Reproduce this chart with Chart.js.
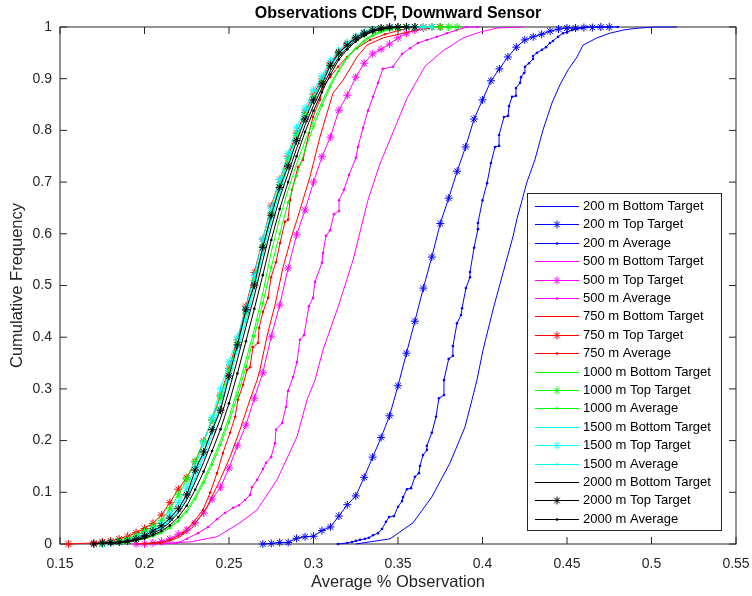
<!DOCTYPE html>
<html><head><meta charset="utf-8">
<script src="https://cdn.jsdelivr.net/npm/chart.js@4.4.1/dist/chart.umd.min.js"></script>
<style>html,body{margin:0;padding:0;background:#fff;}#wrap{width:752px;height:596px;}</style>
</head><body><div id="wrap"><canvas id="c" width="752" height="596"></canvas></div>
<script>
// ---------- tick labels ----------
const xTicks = [0.15,0.2,0.25,0.3,0.35,0.4,0.45,0.5,0.55];
const yTicks = [0,0.1,0.2,0.3,0.4,0.5,0.6,0.7,0.8,0.9,1];

// ---------- 200 m ----------
const b200x = [0.325,0.3453,0.3589,0.370,0.3808,0.3896,0.3938,0.3967,0.4003,0.4062,0.4121,0.418,0.4204,0.4234,0.4263,0.431,0.4358,0.4411,0.4458,0.4506,0.4559,0.4595,0.4678,0.4754,0.4831,0.4873,0.493,0.502,0.515];
const b200y = [0,0.010,0.041,0.091,0.157,0.226,0.279,0.317,0.375,0.453,0.524,0.594,0.629,0.665,0.700,0.743,0.801,0.853,0.888,0.917,0.942,0.965,0.979,0.988,0.994,0.996,0.998,1,1];
const t200x = [0.270,0.275,0.280,0.285,0.290,0.295,0.300,0.305,0.310,0.315,0.320,0.325,0.330,0.335,0.340,0.345,0.350,0.355,0.360,0.365,0.370,0.375,0.380,0.385,0.390,0.395,0.400,0.405,0.410,0.415,0.420,0.425,0.430,0.435,0.440,0.445,0.450,0.455,0.460,0.465,0.470,0.475];
const t200y = [0,0.001,0.003,0.003,0.011,0.014,0.015,0.026,0.033,0.054,0.076,0.093,0.129,0.168,0.206,0.248,0.306,0.369,0.431,0.495,0.555,0.620,0.669,0.721,0.768,0.822,0.859,0.896,0.919,0.942,0.961,0.975,0.981,0.986,0.992,0.996,0.998,0.998,0.999,0.999,1,1];
const a200x = [0.3145,0.320,0.3228,0.3251,0.3275,0.3305,0.3328,0.3352,0.3382,0.3405,0.3429,0.3447,0.3476,0.350,0.3524,0.353,0.3553,0.3577,0.360,0.3624,0.363,0.3648,0.3671,0.3671,0.370,0.3725,0.3742,0.3772,0.3772,0.380,0.3825,0.3825,0.3849,0.3873,0.3879,0.3902,0.3926,0.3926,0.395,0.3973,0.3973,0.400,0.4027,0.405,0.4074,0.4098,0.4098,0.4127,0.4151,0.4157,0.4175,0.4198,0.4198,0.4222,0.4228,0.4246,0.4251,0.4275,0.4299,0.4299,0.4322,0.4352,0.4376,0.4399,0.4417,0.4447,0.4476,0.45,0.453,0.456,0.459,0.462,0.468,0.474,0.48];
const a200y = [0,0.002,0.004,0.006,0.008,0.010,0.012,0.017,0.021,0.029,0.043,0.052,0.054,0.072,0.083,0.091,0.106,0.108,0.130,0.137,0.151,0.172,0.182,0.190,0.215,0.246,0.282,0.288,0.317,0.358,0.364,0.383,0.427,0.443,0.456,0.495,0.516,0.526,0.573,0.609,0.621,0.665,0.698,0.737,0.768,0.770,0.791,0.826,0.828,0.847,0.865,0.867,0.882,0.892,0.903,0.911,0.923,0.930,0.938,0.944,0.950,0.956,0.961,0.969,0.973,0.981,0.988,0.990,0.994,0.996,0.998,1,1,1,1];

// ---------- 500 m ----------
const b500x = [0.205,0.2151,0.2269,0.2429,0.2565,0.2666,0.2784,0.2902,0.2962,0.3009,0.3056,0.3145,0.3234,0.3293,0.3322,0.3393,0.3494,0.3553,0.366,0.377,0.382,0.3885,0.3985,0.4086,0.424];
const b500y = [0,0.002,0.004,0.014,0.041,0.066,0.124,0.207,0.279,0.317,0.375,0.458,0.549,0.627,0.665,0.735,0.815,0.862,0.924,0.955,0.965,0.979,0.990,0.998,1];
const t500x = [0.195,0.200,0.205,0.210,0.215,0.220,0.225,0.230,0.235,0.240,0.245,0.250,0.255,0.260,0.265,0.270,0.275,0.280,0.285,0.290,0.295,0.300,0.305,0.310,0.315,0.320,0.325,0.330,0.335,0.340,0.345,0.350,0.355,0.360,0.365,0.370,0.375];
const t500y = [0,0,0.002,0.005,0.010,0.019,0.027,0.041,0.060,0.087,0.110,0.147,0.190,0.230,0.282,0.331,0.402,0.462,0.534,0.598,0.646,0.700,0.749,0.787,0.839,0.868,0.903,0.930,0.948,0.957,0.967,0.979,0.988,0.994,0.998,1,1];
const a500x = [0.210,0.2192,0.2251,0.2317,0.2376,0.2429,0.2476,0.2524,0.2559,0.2595,0.2624,0.2636,0.2666,0.2701,0.2719,0.2749,0.2772,0.2778,0.2814,0.2837,0.2849,0.2879,0.2902,0.292,0.2944,0.2973,0.2997,0.3009,0.305,0.3056,0.3074,0.3098,0.3121,0.3151,0.3151,0.318,0.321,0.3251,0.3263,0.3293,0.3322,0.3352,0.3382,0.341,0.347,0.3524,0.3571,0.3618,0.3671,0.373,0.379,0.3849,0.3908,0.397];
const a500y = [0,0.002,0.010,0.021,0.033,0.048,0.060,0.070,0.075,0.085,0.095,0.110,0.124,0.145,0.157,0.168,0.195,0.221,0.234,0.265,0.296,0.323,0.352,0.395,0.404,0.460,0.476,0.507,0.544,0.563,0.596,0.607,0.638,0.644,0.665,0.685,0.714,0.747,0.768,0.805,0.838,0.865,0.892,0.919,0.923,0.948,0.959,0.969,0.975,0.981,0.988,0.994,1,1];

// ---------- 750 m ----------
const b750x = [0.195,0.2133,0.221,0.2287,0.237,0.2447,0.2506,0.2565,0.2624,0.2666,0.2683,0.2725,0.2772,0.2819,0.2873,0.2902,0.2979,0.3038,0.3115,0.3175,0.3257,0.3317,0.3411,0.353,0.3612,0.375];
const b750y = [0,0.004,0.014,0.033,0.072,0.124,0.168,0.221,0.279,0.317,0.337,0.402,0.462,0.534,0.598,0.627,0.710,0.787,0.872,0.897,0.942,0.965,0.979,0.988,0.994,1];
const t750x = [0.155,0.170,0.175,0.180,0.185,0.190,0.195,0.200,0.205,0.210,0.215,0.220,0.225,0.230,0.235,0.240,0.245,0.250,0.255,0.260,0.265,0.270,0.275,0.280,0.285,0.290,0.295,0.300,0.305,0.310,0.315,0.320,0.325,0.330,0.335,0.340,0.345,0.350,0.355,0.360,0.365,0.370,0.375];
const t750y = [0,0.002,0.004,0.006,0.010,0.015,0.022,0.030,0.040,0.056,0.080,0.106,0.128,0.159,0.199,0.240,0.288,0.340,0.395,0.460,0.525,0.590,0.654,0.705,0.750,0.795,0.835,0.870,0.900,0.930,0.952,0.968,0.980,0.988,0.993,0.996,0.998,0.999,1,1,1,1,1];
const a750x = [0.200,0.2092,0.2151,0.2228,0.2287,0.2346,0.2388,0.2429,0.2464,0.2506,0.2536,0.2553,0.2583,0.2607,0.2624,0.2642,0.2672,0.2678,0.2701,0.2731,0.2749,0.2778,0.2802,0.2831,0.2849,0.2861,0.2873,0.2908,0.2938,0.2973,0.2997,0.3038,0.3056,0.3098,0.3145,0.3198,0.3257,0.3334,0.3423,0.3512,0.36];
const a750y = [0,0.002,0.008,0.021,0.041,0.066,0.099,0.137,0.176,0.215,0.246,0.279,0.308,0.337,0.342,0.381,0.389,0.418,0.449,0.476,0.516,0.545,0.582,0.623,0.627,0.665,0.685,0.729,0.743,0.795,0.826,0.859,0.884,0.903,0.923,0.942,0.959,0.975,0.986,0.994,1];

// ---------- 1000 m ----------
const b1000x = [0.180,0.185,0.190,0.195,0.200,0.205,0.210,0.215,0.220,0.225,0.230,0.235,0.240,0.245,0.250,0.255,0.260,0.265,0.270,0.275,0.280,0.285,0.290,0.295,0.300,0.305,0.310,0.315,0.320,0.325,0.330,0.335,0.340,0.345,0.350,0.355,0.360];
const b1000y = [0,0.002,0.004,0.007,0.011,0.016,0.023,0.033,0.047,0.066,0.092,0.124,0.160,0.200,0.245,0.298,0.355,0.415,0.485,0.565,0.630,0.685,0.735,0.780,0.818,0.855,0.890,0.918,0.942,0.960,0.975,0.985,0.992,0.996,0.998,1,1];
const t1000x = [0.175,0.180,0.185,0.190,0.195,0.200,0.205,0.210,0.215,0.220,0.225,0.230,0.235,0.240,0.245,0.250,0.255,0.260,0.265,0.270,0.275,0.280,0.285,0.290,0.295,0.300,0.305,0.310,0.315,0.320,0.325,0.330,0.335,0.340,0.345,0.350,0.355,0.360,0.365,0.370,0.375,0.380,0.385];
const t1000y = [0,0.003,0.006,0.010,0.016,0.024,0.034,0.046,0.068,0.095,0.125,0.160,0.198,0.240,0.285,0.335,0.390,0.445,0.510,0.575,0.640,0.695,0.745,0.790,0.830,0.865,0.895,0.925,0.948,0.965,0.978,0.987,0.993,0.996,0.998,0.999,1,1,1,1,1,1,1];
const a1000x = [0.185,0.190,0.195,0.200,0.205,0.210,0.215,0.220,0.225,0.230,0.235,0.240,0.245,0.250,0.255,0.260,0.265,0.270,0.275,0.280,0.285,0.290,0.295,0.300,0.305,0.310,0.315,0.320,0.325,0.330,0.335,0.340,0.345,0.350,0.355,0.360];
const a1000y = [0,0.003,0.006,0.010,0.015,0.022,0.031,0.044,0.062,0.087,0.118,0.153,0.192,0.236,0.286,0.342,0.402,0.466,0.535,0.600,0.660,0.712,0.762,0.808,0.848,0.885,0.915,0.940,0.958,0.972,0.983,0.990,0.995,0.998,1,1];

// ---------- 1500 m ----------
const b1500x = [0.175,0.180,0.185,0.190,0.195,0.200,0.205,0.210,0.215,0.220,0.225,0.230,0.235,0.240,0.245,0.250,0.255,0.260,0.265,0.270,0.275,0.280,0.285,0.290,0.295,0.300,0.305,0.310,0.315,0.320,0.325,0.330,0.335,0.340,0.345,0.350,0.355,0.360];
const b1500y = [0,0.002,0.004,0.006,0.010,0.015,0.023,0.033,0.048,0.068,0.094,0.132,0.175,0.222,0.275,0.330,0.385,0.440,0.505,0.572,0.635,0.690,0.740,0.790,0.830,0.866,0.896,0.927,0.950,0.965,0.978,0.987,0.993,0.997,0.999,1,1,1];
const t1500x = [0.175,0.180,0.185,0.190,0.195,0.200,0.205,0.210,0.215,0.220,0.225,0.230,0.235,0.240,0.245,0.250,0.255,0.260,0.265,0.270,0.275,0.280,0.285,0.290,0.295,0.300,0.305,0.310,0.315,0.320,0.325,0.330,0.335,0.340,0.345,0.350,0.355,0.360,0.365,0.370];
const t1500y = [0,0.002,0.004,0.007,0.012,0.018,0.028,0.040,0.058,0.080,0.108,0.150,0.195,0.245,0.300,0.352,0.400,0.456,0.520,0.590,0.650,0.705,0.756,0.805,0.843,0.878,0.905,0.935,0.955,0.970,0.982,0.990,0.995,0.998,0.999,1,1,1,1,1];
const a1500x = [0.180,0.185,0.190,0.195,0.200,0.205,0.210,0.215,0.220,0.225,0.230,0.235,0.240,0.245,0.250,0.255,0.260,0.265,0.270,0.275,0.280,0.285,0.290,0.295,0.300,0.305,0.310,0.315,0.320,0.325,0.330,0.335,0.340,0.345,0.350,0.355];
const a1500y = [0,0.003,0.005,0.009,0.014,0.021,0.031,0.045,0.064,0.089,0.126,0.168,0.213,0.265,0.318,0.374,0.430,0.495,0.562,0.625,0.680,0.732,0.782,0.824,0.860,0.892,0.923,0.947,0.963,0.977,0.986,0.992,0.996,0.999,1,1];

// ---------- 2000 m ----------
const b2000x = [0.175,0.180,0.185,0.190,0.195,0.200,0.205,0.210,0.215,0.220,0.225,0.230,0.235,0.240,0.245,0.250,0.255,0.260,0.265,0.270,0.275,0.280,0.285,0.290,0.295,0.300,0.305,0.310,0.315,0.320,0.325,0.330,0.335,0.340,0.345,0.350,0.355];
const b2000y = [0,0.002,0.003,0.005,0.008,0.013,0.020,0.029,0.042,0.060,0.085,0.120,0.158,0.200,0.243,0.297,0.357,0.420,0.480,0.548,0.612,0.670,0.717,0.765,0.810,0.848,0.882,0.915,0.942,0.960,0.975,0.985,0.992,0.996,0.998,1,1];
const t2000x = [0.170,0.175,0.180,0.185,0.190,0.195,0.200,0.205,0.210,0.215,0.220,0.225,0.230,0.235,0.240,0.245,0.250,0.255,0.260,0.265,0.270,0.275,0.280,0.285,0.290,0.295,0.300,0.305,0.310,0.315,0.320,0.325,0.330,0.335,0.340,0.345,0.350,0.355,0.360];
const t2000y = [0,0.002,0.003,0.004,0.006,0.010,0.016,0.025,0.035,0.050,0.068,0.095,0.143,0.178,0.221,0.259,0.325,0.385,0.453,0.501,0.574,0.636,0.690,0.731,0.780,0.822,0.859,0.890,0.926,0.950,0.965,0.979,0.988,0.994,0.998,1,1,1,1];
const a2000x = [0.180,0.185,0.190,0.195,0.200,0.205,0.210,0.215,0.220,0.225,0.230,0.235,0.240,0.245,0.250,0.255,0.260,0.265,0.270,0.275,0.280,0.285,0.290,0.295,0.300,0.305,0.310,0.315,0.320,0.325,0.330,0.335,0.340,0.345,0.350,0.355];
const a2000y = [0,0.002,0.004,0.007,0.011,0.017,0.025,0.036,0.052,0.074,0.105,0.140,0.180,0.222,0.272,0.330,0.392,0.455,0.520,0.588,0.648,0.700,0.750,0.797,0.838,0.874,0.908,0.937,0.957,0.972,0.983,0.991,0.995,0.998,1,1];

const depths = ['200 m','500 m','750 m','1000 m','1500 m','2000 m'];
const kinds = ['Bottom Target','Top Target','Average'];

// ---------- build ----------
const FONT = "'Liberation Sans', Arial, Helvetica, sans-serif";
const groupColors = ['#0000ff','#ff00ff','#ff0000','#00ff00','#00ffff','#000000'];
const seriesData = [
  [[b200x,b200y],[t200x,t200y],[a200x,a200y]],
  [[b500x,b500y],[t500x,t500y],[a500x,a500y]],
  [[b750x,b750y],[t750x,t750y],[a750x,a750y]],
  [[b1000x,b1000y],[t1000x,t1000y],[a1000x,a1000y]],
  [[b1500x,b1500y],[t1500x,t1500y],[a1500x,a1500y]],
  [[b2000x,b2000y],[t2000x,t2000y],[a2000x,a2000y]]
];
const datasets = [];
const legendItems = [];
seriesData.forEach((grp, gi) => {
  grp.forEach((s, k) => {
    const col = groupColors[gi];
    const pts = s[0].map((x, i) => ({x: x, y: s[1][i]}));
    const ds = {
      label: depths[gi] + ' ' + kinds[k],
      data: pts,
      borderColor: col,
      backgroundColor: col,
      borderWidth: 1,
      tension: 0,
      fill: false,
      clip: false,
      pointHoverRadius: 0
    };
    if (k === 0) { ds.pointRadius = 0; }
    else if (k === 1) { ds.pointStyle = 'star'; ds.pointRadius = 4; ds.pointBorderColor = col; ds.pointBorderWidth = 1; }
    else { ds.pointStyle = 'circle'; ds.pointRadius = 1.3; ds.pointBorderWidth = 0; ds.pointBackgroundColor = col; }
    datasets.push(ds);
    legendItems.push({text: ds.label, color: col, kind: k});
  });
});
datasets.forEach((d, i) => { d.order = datasets.length - 1 - i; });

const fmt = v => String(Math.round(v * 100) / 100);
const AX = '#262626';

const framePlugin = {
  id: 'frame',
  beforeDatasetsDraw(chart) {
    const {ctx, chartArea: a, scales: {x, y}} = chart;
    ctx.save();
    ctx.strokeStyle = AX; ctx.lineWidth = 1;
    ctx.strokeRect(a.left, a.top, a.right - a.left, a.bottom - a.top);
    const L = 7;
    ctx.beginPath();
    xTicks.forEach(v => {
      const px = x.getPixelForValue(v);
      ctx.moveTo(px, a.bottom); ctx.lineTo(px, a.bottom - L);
      ctx.moveTo(px, a.top); ctx.lineTo(px, a.top + L);
    });
    yTicks.forEach(v => {
      const py = y.getPixelForValue(v);
      ctx.moveTo(a.left, py); ctx.lineTo(a.left + L, py);
      ctx.moveTo(a.right, py); ctx.lineTo(a.right - L, py);
    });
    ctx.stroke();
    ctx.restore();
  }
};

const legendPlugin = {
  id: 'boxLegend',
  afterDraw(chart) {
    const ctx = chart.ctx;
    const bx = 527, by = 193, bw = 194, bh = 337;
    ctx.save();
    ctx.fillStyle = '#fff';
    ctx.fillRect(bx, by, bw, bh);
    ctx.strokeStyle = AX; ctx.lineWidth = 1;
    ctx.strokeRect(bx + 0.5, by + 0.5, bw, bh);
    ctx.font = '13px ' + FONT;
    ctx.textBaseline = 'middle';
    ctx.textAlign = 'left';
    legendItems.forEach((it, i) => {
      const yy = Math.round(206 + i * 18.4) + 0.5;
      ctx.strokeStyle = it.color; ctx.fillStyle = it.color; ctx.lineWidth = 1;
      ctx.beginPath(); ctx.moveTo(535, yy); ctx.lineTo(579, yy); ctx.stroke();
      const cx = 557;
      if (it.kind === 1) {
        const r = 4, d = r * Math.SQRT1_2;
        ctx.beginPath();
        ctx.moveTo(cx - r, yy); ctx.lineTo(cx + r, yy);
        ctx.moveTo(cx, yy - r); ctx.lineTo(cx, yy + r);
        ctx.moveTo(cx - d, yy - d); ctx.lineTo(cx + d, yy + d);
        ctx.moveTo(cx - d, yy + d); ctx.lineTo(cx + d, yy - d);
        ctx.stroke();
      } else if (it.kind === 2) {
        ctx.beginPath(); ctx.arc(cx, yy, 1.3, 0, Math.PI * 2); ctx.fill();
      }
      ctx.fillStyle = '#000';
      ctx.fillText(it.text, 583, yy);
    });
    ctx.restore();
  }
};

const zeroPad = s => { s.paddingLeft = 0; s.paddingRight = 0; s.paddingTop = 0; s.paddingBottom = 0; };

new Chart(document.getElementById('c'), {
  type: 'line',
  data: {datasets: datasets},
  options: {
    responsive: false,
    animation: false,
    devicePixelRatio: 1,
    events: [],
    layout: {padding: {left: 0, right: 16, top: 0, bottom: 0}},
    plugins: {
      legend: {display: false},
      tooltip: {enabled: false},
      title: {
        display: true,
        fullSize: false,
        text: 'Observations CDF, Downward Sensor',
        color: '#000',
        font: {family: FONT, size: 16, weight: 'bold'},
        padding: {top: 3.5, bottom: 4.3}
      }
    },
    scales: {
      x: {
        type: 'linear', min: 0.15, max: 0.55,
        afterBuildTicks: s => { s.ticks = xTicks.map(v => ({value: v})); },
        afterFit: s => { s.height = 52; zeroPad(s); },
        grid: {display: false, drawTicks: false},
        border: {display: false},
        ticks: {padding: 12, color: AX, font: {family: FONT, size: 14}, maxRotation: 0, autoSkip: false, callback: v => fmt(v)},
        title: {display: true, text: 'Average % Observation', color: AX, font: {family: FONT, size: 16.5}, padding: {top: 0, bottom: 4}}
      },
      y: {
        type: 'linear', min: 0, max: 1,
        afterBuildTicks: s => { s.ticks = yTicks.map(v => ({value: v})); },
        afterFit: s => { s.width = 60; zeroPad(s); },
        grid: {display: false, drawTicks: false},
        border: {display: false},
        ticks: {padding: 8, color: AX, font: {family: FONT, size: 14}, autoSkip: false, callback: v => fmt(v)},
        title: {display: true, text: 'Cumulative Frequency', color: AX, font: {family: FONT, size: 16.5}, padding: {top: 8, bottom: 0}}
      }
    }
  },
  plugins: [framePlugin, legendPlugin]
});
</script>
</body></html>
